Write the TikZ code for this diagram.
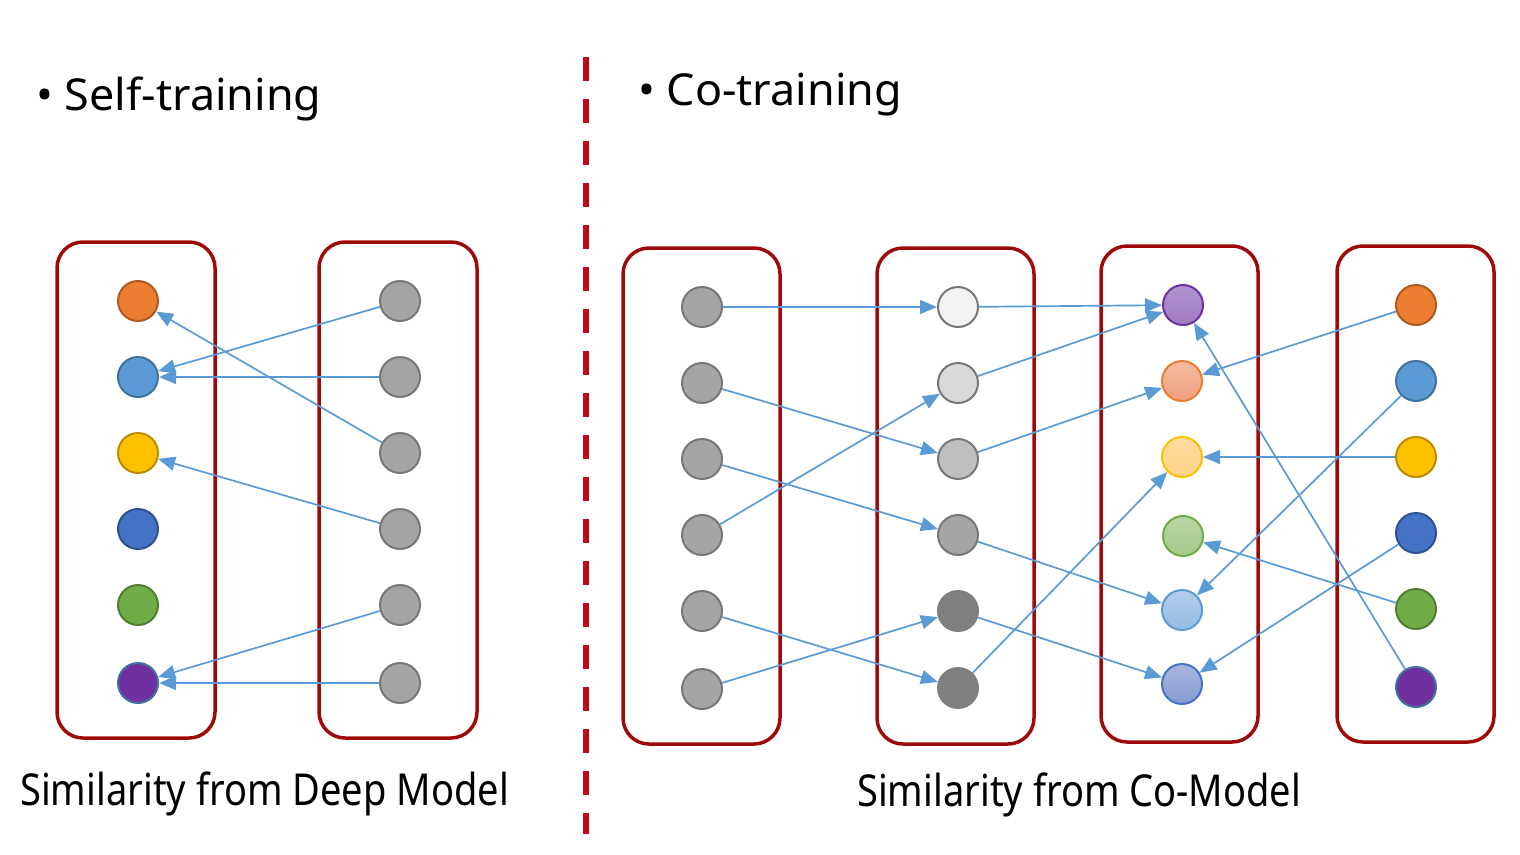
\documentclass[tikz,border=0pt]{standalone}
\usepackage{fontspec}
\setmainfont{Noto Sans}
\newfontfamily\narrowfont[FakeStretch=0.865]{Noto Sans}
\newfontfamily\wideishfont[FakeStretch=1.02]{Noto Sans}
\usetikzlibrary{arrows.meta}
\definecolor{boxred}{HTML}{9E0A0A}
\definecolor{dashred}{HTML}{C00A1A}
\definecolor{arrowblue}{HTML}{5B9BD5}
\definecolor{cOrange}{HTML}{ED7D31}\definecolor{bOrange}{HTML}{AE5A21}
\definecolor{cBlue}{HTML}{5B9BD5}\definecolor{bBlue}{HTML}{41719C}
\definecolor{cYellow}{HTML}{FFC000}\definecolor{bYellow}{HTML}{BC8C00}
\definecolor{cDBlue}{HTML}{4472C4}\definecolor{bDBlue}{HTML}{2F528F}
\definecolor{cGreen}{HTML}{70AD47}\definecolor{bGreen}{HTML}{507E32}
\definecolor{cPurple}{HTML}{7030A0}
\definecolor{cGray}{HTML}{A5A5A5}\definecolor{bGray}{HTML}{787878}
\tikzset{
  x=1pt, y=-1pt,
  panel/.style={draw=boxred, line width=3.5pt, rounded corners=26pt},
  dot/.style={circle, minimum size=40pt, inner sep=0pt, line width=2pt},
  gdot/.style={dot, fill=cGray, draw=bGray},
  link/.style={draw=arrowblue, line width=1.7pt, -{Triangle[length=17pt,width=14pt]}},
  toplbl/.style={font=\wideishfont\fontsize{44}{50}\selectfont, anchor=base west, inner sep=0pt},
  botlbl/.style={font=\narrowfont\fontsize{44}{50}\selectfont, anchor=base west, inner sep=0pt},
}
\begin{document}
\begin{tikzpicture}
\useasboundingbox (0,0) rectangle (1520,854);
% ---------- left panel ----------
\draw[panel] (57,242) rectangle (215,738);
\draw[panel] (319,242) rectangle (477,738);
\node[dot, fill=cOrange, draw=bOrange] (l1) at (138,301) {};
\node[dot, fill=cBlue, draw=bBlue] (l2) at (138,377) {};
\node[dot, fill=cYellow, draw=bYellow] (l3) at (138,453) {};
\node[dot, fill=cDBlue, draw=bDBlue] (l4) at (138,529) {};
\node[dot, fill=cGreen, draw=bGreen] (l5) at (138,605) {};
\node[dot, fill=cPurple, draw=bBlue] (l6) at (138,683) {};
\foreach \i/\y in {1/301,2/377,3/453,4/529,5/605,6/683}
  \node[gdot] (r\i) at (400,\y) {};
\draw[link] (r1) -- (l2);
\draw[link] (r2) -- (l2);
\draw[link] (r3) -- (l1);
\draw[link] (r4) -- (l3);
\draw[link] (r5) -- (l6);
\draw[link] (r6) -- (l6);
\node[toplbl] (t1) at (36,110) {\textbullet\ Self-training};
\node[botlbl] (t2) at (20,805) {Similarity from Deep Model};
% ---------- divider ----------
\coordinate (d1) at (586,57);
\coordinate (d2) at (586,834);
\draw[dashred, line width=6pt, dash pattern=on 24pt off 18pt] (d1) -- (d2);
% ---------- right panel ----------
\draw[panel] (623,248) rectangle (780,744);
\draw[panel] (877,248) rectangle (1034,744);
\draw[panel] (1101,246) rectangle (1258,742);
\draw[panel] (1337,246) rectangle (1494,742);
\foreach \i/\y in {1/307,2/383,3/459,4/535,5/611,6/689}
  \node[gdot] (a\i) at (702,\y) {};
\node[dot, fill={rgb,255:red,242;green,242;blue,242}, draw=bGray] (b1) at (958,307) {};
\node[dot, fill={rgb,255:red,217;green,217;blue,217}, draw=bGray] (b2) at (958,383) {};
\node[dot, fill={rgb,255:red,191;green,191;blue,191}, draw=bGray] (b3) at (958,459) {};
\node[dot, fill=cGray, draw=bGray] (b4) at (958,535) {};
\node[dot, fill={rgb,255:red,127;green,127;blue,127}, draw={rgb,255:red,127;green,127;blue,127}] (b5) at (958,611) {};
\node[dot, fill={rgb,255:red,127;green,127;blue,127}, draw={rgb,255:red,127;green,127;blue,127}] (b6) at (958,688) {};
\node[dot, top color={rgb,255:red,178;green,147;blue,208}, bottom color={rgb,255:red,160;green,124;blue,192}, draw=cPurple] (c1) at (1183,305) {};
\node[dot, top color={rgb,255:red,244;green,187;blue,164}, bottom color={rgb,255:red,240;green,160;blue,124}, draw=cOrange] (c2) at (1182,381) {};
\node[dot, top color={rgb,255:red,255;green,220;blue,160}, bottom color={rgb,255:red,255;green,212;blue,134}, draw=cYellow] (c3) at (1182,457) {};
\node[dot, top color={rgb,255:red,184;green,214;blue,166}, bottom color={rgb,255:red,164;green,202;blue,138}, draw=cGreen] (c4) at (1183,536) {};
\node[dot, top color={rgb,255:red,178;green,205;blue,234}, bottom color={rgb,255:red,150;green,188;blue,228}, draw=cBlue] (c5) at (1182,610) {};
\node[dot, top color={rgb,255:red,168;green,182;blue,222}, bottom color={rgb,255:red,132;green,156;blue,208}, draw=cDBlue] (c6) at (1182,684) {};
\node[dot, fill=cOrange, draw=bOrange] (d1n) at (1416,305) {};
\node[dot, fill=cBlue, draw=bBlue] (d2n) at (1416,381) {};
\node[dot, fill=cYellow, draw=bYellow] (d3n) at (1416,457) {};
\node[dot, fill=cDBlue, draw=bDBlue] (d4n) at (1416,533) {};
\node[dot, fill=cGreen, draw=bGreen] (d5n) at (1416,609) {};
\node[dot, fill=cPurple, draw=bBlue] (d6n) at (1416,687) {};
% A -> B
\draw[link] (a1) -- (b1);
\draw[link] (a2) -- (b3);
\draw[link] (a3) -- (b4);
\draw[link] (a4) -- (b2);
\draw[link] (a5) -- (b6);
\draw[link] (a6) -- (b5);
% B -> C
\draw[link] (b1) -- (c1);
\draw[link] (b2) -- (c1);
\draw[link] (b3) -- (c2);
\draw[link] (b4) -- (c5);
\draw[link] (b5) -- (c6);
\draw[link] (b6) -- (c3);
% D -> C
\draw[link] (d1n) -- (c2);
\draw[link] (d2n) -- (c5);
\draw[link] (d3n) -- (c3);
\draw[link] (d4n) -- (c6);
\draw[link] (d5n) -- (c4);
\draw[link] (d6n) -- (c1);
\node[toplbl] (t3) at (638,105) {\textbullet\ Co-training};
\node[botlbl] (t4) at (857,806) {Similarity from Co-Model};
\end{tikzpicture}
\end{document}
